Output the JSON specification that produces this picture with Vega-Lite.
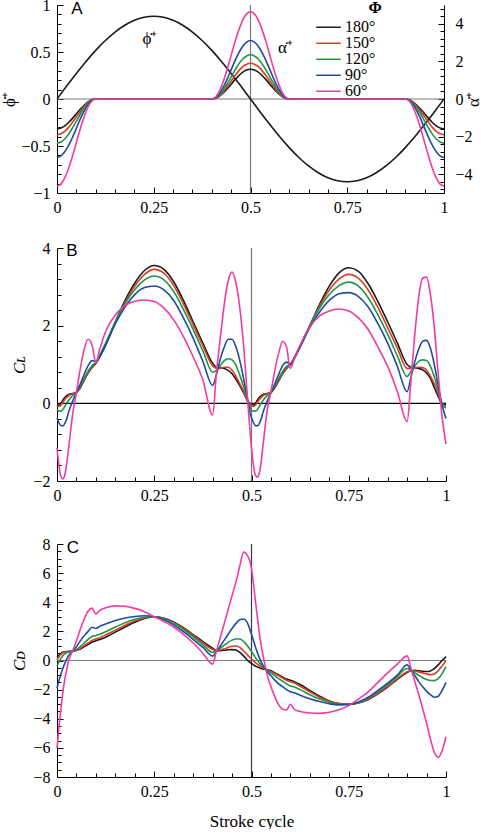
{
  "$schema": "https://vega.github.io/schema/vega-lite/v6.json",
  "padding": {"left": 0, "top": -3, "right": 0, "bottom": 0},
  "bounds": "flush",
  "spacing": 55,
  "config": {
    "view": {"stroke": null},
    "axis": {
      "domainColor": "#000", "tickColor": "#000", "labelColor": "#000", "titleColor": "#000",
      "labelFont": "Liberation Serif", "labelFontSize": 16,
      "titleFont": "Liberation Serif", "titleFontSize": 17, "titleFontWeight": "normal",
      "grid": false, "labelFlush": false, "labelOverlap": false
    },
    "text": {"font": "Liberation Serif", "color": "#000"},
    "line": {"strokeWidth": 1.6, "interpolate": "monotone"}
  },
  "datasets": {
    "phi": [
      {"t":0,"v":0},{"t":0.025,"v":0.138},{"t":0.05,"v":0.272},{"t":0.075,"v":0.4},{"t":0.1,"v":0.517},
      {"t":0.125,"v":0.622},{"t":0.15,"v":0.712},{"t":0.175,"v":0.784},{"t":0.2,"v":0.837},{"t":0.225,"v":0.869},
      {"t":0.25,"v":0.88},{"t":0.275,"v":0.869},{"t":0.3,"v":0.837},{"t":0.325,"v":0.784},{"t":0.35,"v":0.712},
      {"t":0.375,"v":0.622},{"t":0.4,"v":0.517},{"t":0.425,"v":0.4},{"t":0.45,"v":0.272},{"t":0.475,"v":0.138},
      {"t":0.5,"v":0},{"t":0.525,"v":-0.138},{"t":0.55,"v":-0.272},{"t":0.575,"v":-0.4},{"t":0.6,"v":-0.517},
      {"t":0.625,"v":-0.622},{"t":0.65,"v":-0.712},{"t":0.675,"v":-0.784},{"t":0.7,"v":-0.837},{"t":0.725,"v":-0.869},
      {"t":0.75,"v":-0.88},{"t":0.775,"v":-0.869},{"t":0.8,"v":-0.837},{"t":0.825,"v":-0.784},{"t":0.85,"v":-0.712},
      {"t":0.875,"v":-0.622},{"t":0.9,"v":-0.517},{"t":0.925,"v":-0.4},{"t":0.95,"v":-0.272},{"t":0.975,"v":-0.138},
      {"t":1,"v":0}
    ],
    "alpha": [
      {"t":0,"180°":-1.58,"150°":-1.9,"120°":-2.35,"90°":-3.11,"60°":-4.64},
      {"t":0.01,"180°":-1.54,"150°":-1.85,"120°":-2.29,"90°":-3.03,"60°":-4.53},
      {"t":0.02,"180°":-1.43,"150°":-1.72,"120°":-2.13,"90°":-2.81,"60°":-4.2},
      {"t":0.03,"180°":-1.25,"150°":-1.51,"120°":-1.87,"90°":-2.47,"60°":-3.68},
      {"t":0.04,"180°":-1.03,"150°":-1.24,"120°":-1.54,"90°":-2.04,"60°":-3.04},
      {"t":0.05,"180°":-0.79,"150°":-0.95,"120°":-1.18,"90°":-1.56,"60°":-2.32},
      {"t":0.06,"180°":-0.55,"150°":-0.66,"120°":-0.81,"90°":-1.07,"60°":-1.6},
      {"t":0.07,"180°":-0.33,"150°":-0.39,"120°":-0.48,"90°":-0.64,"60°":-0.96},
      {"t":0.08,"180°":-0.15,"150°":-0.18,"120°":-0.22,"90°":-0.3,"60°":-0.44},
      {"t":0.09,"180°":-0.04,"150°":-0.05,"120°":-0.06,"90°":-0.08,"60°":-0.11},
      {"t":0.1,"180°":0,"150°":0,"120°":0,"90°":0,"60°":0},
      {"t":0.4,"180°":0,"150°":0,"120°":0,"90°":0,"60°":0},
      {"t":0.41,"180°":0.04,"150°":0.05,"120°":0.06,"90°":0.08,"60°":0.11},
      {"t":0.42,"180°":0.15,"150°":0.18,"120°":0.22,"90°":0.3,"60°":0.44},
      {"t":0.43,"180°":0.33,"150°":0.39,"120°":0.48,"90°":0.64,"60°":0.96},
      {"t":0.44,"180°":0.55,"150°":0.66,"120°":0.81,"90°":1.07,"60°":1.6},
      {"t":0.45,"180°":0.79,"150°":0.95,"120°":1.18,"90°":1.56,"60°":2.32},
      {"t":0.46,"180°":1.03,"150°":1.24,"120°":1.54,"90°":2.04,"60°":3.04},
      {"t":0.47,"180°":1.25,"150°":1.51,"120°":1.87,"90°":2.47,"60°":3.68},
      {"t":0.48,"180°":1.43,"150°":1.72,"120°":2.13,"90°":2.81,"60°":4.2},
      {"t":0.49,"180°":1.54,"150°":1.85,"120°":2.29,"90°":3.03,"60°":4.53},
      {"t":0.5,"180°":1.58,"150°":1.9,"120°":2.35,"90°":3.11,"60°":4.64},
      {"t":0.51,"180°":1.54,"150°":1.85,"120°":2.29,"90°":3.03,"60°":4.53},
      {"t":0.52,"180°":1.43,"150°":1.72,"120°":2.13,"90°":2.81,"60°":4.2},
      {"t":0.53,"180°":1.25,"150°":1.51,"120°":1.87,"90°":2.47,"60°":3.68},
      {"t":0.54,"180°":1.03,"150°":1.24,"120°":1.54,"90°":2.04,"60°":3.04},
      {"t":0.55,"180°":0.79,"150°":0.95,"120°":1.18,"90°":1.56,"60°":2.32},
      {"t":0.56,"180°":0.55,"150°":0.66,"120°":0.81,"90°":1.07,"60°":1.6},
      {"t":0.57,"180°":0.33,"150°":0.39,"120°":0.48,"90°":0.64,"60°":0.96},
      {"t":0.58,"180°":0.15,"150°":0.18,"120°":0.22,"90°":0.3,"60°":0.44},
      {"t":0.59,"180°":0.04,"150°":0.05,"120°":0.06,"90°":0.08,"60°":0.11},
      {"t":0.6,"180°":0,"150°":0,"120°":0,"90°":0,"60°":0},
      {"t":0.9,"180°":0,"150°":0,"120°":0,"90°":0,"60°":0},
      {"t":0.91,"180°":-0.04,"150°":-0.05,"120°":-0.06,"90°":-0.08,"60°":-0.11},
      {"t":0.92,"180°":-0.15,"150°":-0.18,"120°":-0.22,"90°":-0.3,"60°":-0.44},
      {"t":0.93,"180°":-0.33,"150°":-0.39,"120°":-0.48,"90°":-0.64,"60°":-0.96},
      {"t":0.94,"180°":-0.55,"150°":-0.66,"120°":-0.81,"90°":-1.07,"60°":-1.6},
      {"t":0.95,"180°":-0.79,"150°":-0.95,"120°":-1.18,"90°":-1.56,"60°":-2.32},
      {"t":0.96,"180°":-1.03,"150°":-1.24,"120°":-1.54,"90°":-2.04,"60°":-3.04},
      {"t":0.97,"180°":-1.25,"150°":-1.51,"120°":-1.87,"90°":-2.47,"60°":-3.68},
      {"t":0.98,"180°":-1.43,"150°":-1.72,"120°":-2.13,"90°":-2.81,"60°":-4.2},
      {"t":0.99,"180°":-1.54,"150°":-1.85,"120°":-2.29,"90°":-3.03,"60°":-4.53},
      {"t":1,"180°":-1.58,"150°":-1.9,"120°":-2.35,"90°":-3.11,"60°":-4.64}
    ],
    "lift": [
      {"t":0,"180°":-0.03,"150°":-0.06,"120°":-0.17,"90°":-0.38,"60°":-1.15},
      {"t":0.005,"180°":-0.05,"150°":-0.08,"120°":-0.2,"90°":-0.5,"60°":-1.6},
      {"t":0.01,"180°":0,"150°":-0.05,"120°":-0.2,"90°":-0.57,"60°":-1.88},
      {"t":0.015,"180°":0.08,"150°":0.02,"120°":-0.16,"90°":-0.58,"60°":-1.95},
      {"t":0.02,"180°":0.15,"150°":0.1,"120°":-0.08,"90°":-0.52,"60°":-1.85},
      {"t":0.025,"180°":0.2,"150°":0.15,"120°":0,"90°":-0.4,"60°":-1.55},
      {"t":0.03,"180°":0.23,"150°":0.2,"120°":0.08,"90°":-0.22,"60°":-1.15},
      {"t":0.04,"180°":0.25,"150°":0.25,"120°":0.2,"90°":0.05,"60°":-0.3},
      {"t":0.05,"180°":0.28,"150°":0.28,"120°":0.28,"90°":0.28,"60°":0.28},
      {"t":0.06,"180°":0.4,"150°":0.42,"120°":0.45,"90°":0.5,"60°":0.9},
      {"t":0.07,"180°":0.6,"150°":0.62,"120°":0.65,"90°":0.75,"60°":1.4},
      {"t":0.08,"180°":0.78,"150°":0.8,"120°":0.83,"90°":0.97,"60°":1.65},
      {"t":0.09,"180°":0.92,"150°":0.95,"120°":0.97,"90°":1.1,"60°":1.5},
      {"t":0.1,"180°":1.03,"150°":1.05,"120°":1.06,"90°":1.08,"60°":1.05},
      {"t":0.11,"180°":1.2,"150°":1.22,"120°":1.24,"90°":1.2,"60°":1.4},
      {"t":0.125,"180°":1.5,"150°":1.52,"120°":1.55,"90°":1.5,"60°":1.85},
      {"t":0.15,"180°":2.1,"150°":2.08,"120°":2.1,"90°":2.05,"60°":2.28},
      {"t":0.175,"180°":2.65,"150°":2.6,"120°":2.57,"90°":2.48,"60°":2.52},
      {"t":0.2,"180°":3.1,"150°":3.02,"120°":2.93,"90°":2.8,"60°":2.63},
      {"t":0.225,"180°":3.42,"150°":3.32,"120°":3.18,"90°":2.98,"60°":2.66},
      {"t":0.25,"180°":3.55,"150°":3.45,"120°":3.28,"90°":3.02,"60°":2.62},
      {"t":0.275,"180°":3.45,"150°":3.35,"120°":3.18,"90°":2.92,"60°":2.45},
      {"t":0.3,"180°":3.13,"150°":3.03,"120°":2.88,"90°":2.65,"60°":2.15},
      {"t":0.325,"180°":2.65,"150°":2.56,"120°":2.42,"90°":2.2,"60°":1.72},
      {"t":0.35,"180°":2.1,"150°":2.02,"120°":1.9,"90°":1.68,"60°":1.2},
      {"t":0.375,"180°":1.55,"150°":1.48,"120°":1.35,"90°":1.08,"60°":0.6},
      {"t":0.4,"180°":1.03,"150°":0.97,"120°":0.8,"90°":0.46,"60°":-0.3},
      {"t":0.41,"180°":0.93,"150°":0.9,"120°":0.85,"90°":0.75,"60°":0.8},
      {"t":0.42,"180°":0.92,"150°":0.9,"120°":0.98,"90°":1.15,"60°":1.7},
      {"t":0.43,"180°":0.9,"150°":0.93,"120°":1.1,"90°":1.45,"60°":2.55},
      {"t":0.44,"180°":0.85,"150°":0.93,"120°":1.15,"90°":1.65,"60°":3.15},
      {"t":0.45,"180°":0.76,"150°":0.85,"120°":1.12,"90°":1.65,"60°":3.38},
      {"t":0.46,"180°":0.62,"150°":0.7,"120°":0.98,"90°":1.45,"60°":3.1},
      {"t":0.47,"180°":0.45,"150°":0.5,"120°":0.72,"90°":1.1,"60°":2.45},
      {"t":0.48,"180°":0.27,"150°":0.3,"120°":0.42,"90°":0.62,"60°":1.45},
      {"t":0.49,"180°":0.06,"150°":0.06,"120°":0.08,"90°":0.1,"60°":0.1},
      {"t":0.5,"180°":-0.03,"150°":-0.06,"120°":-0.17,"90°":-0.38,"60°":-1.15},
      {"t":0.505,"180°":-0.05,"150°":-0.08,"120°":-0.2,"90°":-0.5,"60°":-1.6},
      {"t":0.51,"180°":0,"150°":-0.05,"120°":-0.2,"90°":-0.57,"60°":-1.85},
      {"t":0.515,"180°":0.08,"150°":0.02,"120°":-0.16,"90°":-0.58,"60°":-1.9},
      {"t":0.52,"180°":0.15,"150°":0.1,"120°":-0.08,"90°":-0.52,"60°":-1.8},
      {"t":0.525,"180°":0.2,"150°":0.15,"120°":0,"90°":-0.4,"60°":-1.5},
      {"t":0.53,"180°":0.23,"150°":0.2,"120°":0.08,"90°":-0.22,"60°":-1.05},
      {"t":0.54,"180°":0.25,"150°":0.25,"120°":0.2,"90°":0.05,"60°":-0.2},
      {"t":0.55,"180°":0.28,"150°":0.28,"120°":0.28,"90°":0.28,"60°":0.3},
      {"t":0.56,"180°":0.4,"150°":0.42,"120°":0.45,"90°":0.5,"60°":0.85},
      {"t":0.57,"180°":0.58,"150°":0.6,"120°":0.64,"90°":0.75,"60°":1.3},
      {"t":0.58,"180°":0.76,"150°":0.78,"120°":0.82,"90°":0.97,"60°":1.6},
      {"t":0.59,"180°":0.9,"150°":0.92,"120°":0.95,"90°":1.06,"60°":1.45},
      {"t":0.6,"180°":1,"150°":1,"120°":1,"90°":1,"60°":0.9},
      {"t":0.61,"180°":1.17,"150°":1.18,"120°":1.18,"90°":1.15,"60°":1.15},
      {"t":0.625,"180°":1.47,"150°":1.47,"120°":1.48,"90°":1.45,"60°":1.5},
      {"t":0.65,"180°":2,"150°":2,"120°":2,"90°":1.95,"60°":1.97},
      {"t":0.675,"180°":2.55,"150°":2.5,"120°":2.45,"90°":2.35,"60°":2.25},
      {"t":0.7,"180°":3.02,"150°":2.92,"120°":2.8,"90°":2.65,"60°":2.38},
      {"t":0.725,"180°":3.36,"150°":3.2,"120°":3.03,"90°":2.82,"60°":2.43},
      {"t":0.75,"180°":3.49,"150°":3.32,"120°":3.12,"90°":2.85,"60°":2.38},
      {"t":0.775,"180°":3.4,"150°":3.22,"120°":3.02,"90°":2.75,"60°":2.2},
      {"t":0.8,"180°":3.08,"150°":2.92,"120°":2.72,"90°":2.48,"60°":1.9},
      {"t":0.825,"180°":2.62,"150°":2.47,"120°":2.28,"90°":2.05,"60°":1.45},
      {"t":0.85,"180°":2.1,"150°":1.95,"120°":1.78,"90°":1.55,"60°":0.95},
      {"t":0.875,"180°":1.55,"150°":1.42,"120°":1.22,"90°":0.95,"60°":0.3},
      {"t":0.9,"180°":1,"150°":0.9,"120°":0.69,"90°":0.3,"60°":-0.47},
      {"t":0.91,"180°":0.93,"150°":0.9,"120°":0.82,"90°":0.68,"60°":0.6},
      {"t":0.92,"180°":0.92,"150°":0.92,"120°":0.97,"90°":1.08,"60°":1.8},
      {"t":0.93,"180°":0.9,"150°":0.93,"120°":1.08,"90°":1.4,"60°":2.75},
      {"t":0.94,"180°":0.86,"150°":0.92,"120°":1.12,"90°":1.6,"60°":3.22},
      {"t":0.95,"180°":0.78,"150°":0.86,"120°":1.1,"90°":1.62,"60°":3.25},
      {"t":0.96,"180°":0.64,"150°":0.7,"120°":0.95,"90°":1.42,"60°":2.8},
      {"t":0.97,"180°":0.4,"150°":0.5,"120°":0.68,"90°":1,"60°":1.95},
      {"t":0.98,"180°":0.18,"150°":0.25,"120°":0.35,"90°":0.45,"60°":0.75},
      {"t":0.99,"180°":-0.02,"150°":0,"120°":0,"90°":-0.05,"60°":-0.35},
      {"t":1,"180°":-0.04,"150°":-0.07,"120°":-0.12,"90°":-0.39,"60°":-1.05}
    ],
    "drag": [
      {"t":0,"180°":0.2,"150°":0.05,"120°":-0.4,"90°":-1.9,"60°":-6},
      {"t":0.005,"180°":0.35,"150°":0.25,"120°":-0.1,"90°":-1.4,"60°":-4.6},
      {"t":0.01,"180°":0.48,"150°":0.42,"120°":0.15,"90°":-0.95,"60°":-3.3},
      {"t":0.015,"180°":0.56,"150°":0.52,"120°":0.33,"90°":-0.55,"60°":-2.2},
      {"t":0.02,"180°":0.6,"150°":0.58,"120°":0.45,"90°":-0.2,"60°":-1.3},
      {"t":0.025,"180°":0.62,"150°":0.6,"120°":0.53,"90°":0.1,"60°":-0.6},
      {"t":0.03,"180°":0.63,"150°":0.62,"120°":0.58,"90°":0.35,"60°":0},
      {"t":0.04,"180°":0.64,"150°":0.64,"120°":0.64,"90°":0.62,"60°":0.65},
      {"t":0.05,"180°":0.68,"150°":0.7,"120°":0.75,"90°":0.95,"60°":1.35},
      {"t":0.06,"180°":0.78,"150°":0.83,"120°":0.95,"90°":1.35,"60°":2.15},
      {"t":0.07,"180°":0.95,"150°":1.02,"120°":1.2,"90°":1.7,"60°":2.85},
      {"t":0.08,"180°":1.1,"150°":1.2,"120°":1.45,"90°":2,"60°":3.4},
      {"t":0.09,"180°":1.25,"150°":1.37,"120°":1.65,"90°":2.28,"60°":3.6},
      {"t":0.1,"180°":1.35,"150°":1.47,"120°":1.72,"90°":2.2,"60°":3.18},
      {"t":0.11,"180°":1.45,"150°":1.57,"120°":1.8,"90°":2.35,"60°":3.45},
      {"t":0.125,"180°":1.6,"150°":1.75,"120°":1.98,"90°":2.5,"60°":3.62},
      {"t":0.15,"180°":1.95,"150°":2.08,"120°":2.3,"90°":2.75,"60°":3.75},
      {"t":0.175,"180°":2.3,"150°":2.42,"120°":2.6,"90°":2.92,"60°":3.72},
      {"t":0.2,"180°":2.62,"150°":2.72,"120°":2.83,"90°":3.02,"60°":3.58},
      {"t":0.225,"180°":2.88,"150°":2.92,"120°":2.97,"90°":3.07,"60°":3.35},
      {"t":0.25,"180°":3,"150°":3,"120°":3,"90°":3,"60°":3},
      {"t":0.275,"180°":2.9,"150°":2.88,"120°":2.86,"90°":2.8,"60°":2.68},
      {"t":0.3,"180°":2.65,"150°":2.62,"120°":2.58,"90°":2.45,"60°":2.3},
      {"t":0.325,"180°":2.25,"150°":2.2,"120°":2.13,"90°":1.98,"60°":1.8},
      {"t":0.35,"180°":1.78,"150°":1.72,"120°":1.62,"90°":1.45,"60°":1.2},
      {"t":0.375,"180°":1.3,"150°":1.22,"120°":1.08,"90°":0.9,"60°":0.5},
      {"t":0.4,"180°":0.85,"150°":0.75,"120°":0.55,"90°":0.3,"60°":-0.25},
      {"t":0.41,"180°":0.68,"150°":0.68,"120°":0.68,"90°":0.62,"60°":0.66},
      {"t":0.42,"180°":0.68,"150°":0.72,"120°":0.85,"90°":1,"60°":1.6},
      {"t":0.43,"180°":0.7,"150°":0.8,"120°":1.05,"90°":1.4,"60°":2.55},
      {"t":0.44,"180°":0.74,"150°":0.9,"120°":1.25,"90°":1.8,"60°":3.5},
      {"t":0.45,"180°":0.75,"150°":0.98,"120°":1.4,"90°":2.2,"60°":4.45},
      {"t":0.46,"180°":0.72,"150°":1,"120°":1.48,"90°":2.55,"60°":5.4},
      {"t":0.47,"180°":0.55,"150°":0.9,"120°":1.48,"90°":2.8,"60°":6.5},
      {"t":0.48,"180°":0.3,"150°":0.65,"120°":1.3,"90°":2.85,"60°":7.45},
      {"t":0.49,"180°":0,"150°":0.38,"120°":1,"90°":2.55,"60°":7.2},
      {"t":0.5,"180°":-0.2,"150°":0.1,"120°":0.62,"90°":1.8,"60°":6.3},
      {"t":0.505,"180°":-0.3,"150°":-0.02,"120°":0.42,"90°":1.38,"60°":5.3},
      {"t":0.51,"180°":-0.38,"150°":-0.15,"120°":0.2,"90°":0.95,"60°":4.1},
      {"t":0.515,"180°":-0.44,"150°":-0.25,"120°":0.02,"90°":0.55,"60°":3},
      {"t":0.52,"180°":-0.5,"150°":-0.35,"120°":-0.15,"90°":0.2,"60°":1.9},
      {"t":0.525,"180°":-0.55,"150°":-0.44,"120°":-0.3,"90°":-0.1,"60°":1},
      {"t":0.53,"180°":-0.58,"150°":-0.52,"120°":-0.45,"90°":-0.35,"60°":0.3},
      {"t":0.54,"180°":-0.63,"150°":-0.65,"120°":-0.68,"90°":-0.75,"60°":-0.95},
      {"t":0.55,"180°":-0.7,"150°":-0.75,"120°":-0.85,"90°":-1.05,"60°":-1.8},
      {"t":0.56,"180°":-0.85,"150°":-0.9,"120°":-1.05,"90°":-1.35,"60°":-2.5},
      {"t":0.57,"180°":-1,"150°":-1.05,"120°":-1.25,"90°":-1.6,"60°":-3.05},
      {"t":0.58,"180°":-1.15,"150°":-1.2,"120°":-1.42,"90°":-1.8,"60°":-3.35},
      {"t":0.59,"180°":-1.27,"150°":-1.35,"120°":-1.6,"90°":-2,"60°":-3.4},
      {"t":0.6,"180°":-1.35,"150°":-1.45,"120°":-1.75,"90°":-2.15,"60°":-3},
      {"t":0.61,"180°":-1.45,"150°":-1.55,"120°":-1.82,"90°":-2.22,"60°":-3.35},
      {"t":0.625,"180°":-1.65,"150°":-1.77,"120°":-2,"90°":-2.38,"60°":-3.5},
      {"t":0.65,"180°":-2.05,"150°":-2.15,"120°":-2.35,"90°":-2.62,"60°":-3.6},
      {"t":0.675,"180°":-2.45,"150°":-2.52,"120°":-2.65,"90°":-2.82,"60°":-3.63},
      {"t":0.7,"180°":-2.78,"150°":-2.8,"120°":-2.87,"90°":-2.97,"60°":-3.55},
      {"t":0.725,"180°":-2.95,"150°":-2.95,"120°":-3,"90°":-3.05,"60°":-3.38},
      {"t":0.75,"180°":-3,"150°":-3,"120°":-3.02,"90°":-3.02,"60°":-3.1},
      {"t":0.775,"180°":-2.92,"150°":-2.9,"120°":-2.88,"90°":-2.85,"60°":-2.65},
      {"t":0.8,"180°":-2.68,"150°":-2.65,"120°":-2.6,"90°":-2.52,"60°":-2.15},
      {"t":0.825,"180°":-2.28,"150°":-2.25,"120°":-2.15,"90°":-2.05,"60°":-1.5},
      {"t":0.85,"180°":-1.82,"150°":-1.78,"120°":-1.65,"90°":-1.55,"60°":-0.85},
      {"t":0.875,"180°":-1.3,"150°":-1.25,"120°":-1.1,"90°":-1,"60°":-0.25},
      {"t":0.9,"180°":-0.82,"150°":-0.78,"120°":-0.55,"90°":-0.3,"60°":0.32},
      {"t":0.91,"180°":-0.7,"150°":-0.7,"120°":-0.68,"90°":-0.65,"60°":-0.55},
      {"t":0.92,"180°":-0.68,"150°":-0.72,"120°":-0.85,"90°":-1.05,"60°":-1.45},
      {"t":0.93,"180°":-0.7,"150°":-0.78,"120°":-1.02,"90°":-1.45,"60°":-2.35},
      {"t":0.94,"180°":-0.74,"150°":-0.85,"120°":-1.18,"90°":-1.8,"60°":-3.3},
      {"t":0.95,"180°":-0.76,"150°":-0.92,"120°":-1.3,"90°":-2.1,"60°":-4.3},
      {"t":0.96,"180°":-0.72,"150°":-0.97,"120°":-1.37,"90°":-2.35,"60°":-5.4},
      {"t":0.97,"180°":-0.55,"150°":-0.92,"120°":-1.38,"90°":-2.52,"60°":-6.3},
      {"t":0.98,"180°":-0.3,"150°":-0.7,"120°":-1.25,"90°":-2.45,"60°":-6.65},
      {"t":0.99,"180°":0,"150°":-0.38,"120°":-0.9,"90°":-2.05,"60°":-6.2},
      {"t":1,"180°":0.27,"150°":-0.02,"120°":-0.42,"90°":-1.5,"60°":-5.25}
    ]
  },
  "resolve": {"scale": {"color": "independent"}},
  "vconcat": [
    {
      "width": 387,
      "height": 188,
      "layer": [
        {
          "layer": [
            {
              "data": {"values": [{}]},
              "mark": {"type": "rule", "color": "#7a7a7a", "strokeWidth": 1.2},
              "encoding": {"y": {"datum": 0, "type": "quantitative"}}
            },
            {
              "data": {"values": [{}]},
              "mark": {"type": "rule", "color": "#7a7a7a", "strokeWidth": 1.2},
              "encoding": {"x": {"datum": 0.5, "type": "quantitative"}}
            },
            {
              "data": {"name": "phi"},
              "mark": {"type": "line", "color": "#1a1a1a"},
              "encoding": {
                "x": {
                  "field": "t", "type": "quantitative",
                  "scale": {"domain": [0, 1], "nice": false},
                  "axis": {
                    "values": [0,0.05,0.1,0.15,0.2,0.25,0.3,0.35,0.4,0.45,0.5,0.55,0.6,0.65,0.7,0.75,0.8,0.85,0.9,0.95,1],
                    "tickCount": 200, "format": "~g", "labelOverlap": false, "labelFlush": false,
                    "labelExpr": "abs(datum.value*4-round(datum.value*4))<0.001 ? datum.label : ''",
                    "tickSize": {"condition": {"test": "abs(datum.value*4-round(datum.value*4))<0.001", "value": -6}, "value": -4},
                    "labelPadding": 12,
                    "title": null
                  }
                },
                "y": {
                  "field": "v", "type": "quantitative",
                  "scale": {"domain": [-1, 1], "nice": false},
                  "axis": {
                    "values": [-1,-0.9,-0.8,-0.7,-0.6,-0.5,-0.4,-0.3,-0.2,-0.1,0,0.1,0.2,0.3,0.4,0.5,0.6,0.7,0.8,0.9,1],
                    "tickCount": 200, "format": "~g", "labelOverlap": false, "labelFlush": false,
                    "labelExpr": "abs(datum.value*2-round(datum.value*2))<0.001 ? datum.label : ''",
                    "tickSize": {"condition": {"test": "abs(datum.value*2-round(datum.value*2))<0.001", "value": -6}, "value": -4},
                    "labelPadding": 13,
                    "title": "ϕ̇⁺",
                    "titlePadding": 2
                  }
                }
              }
            },
            {
              "data": {"values": [{}]},
              "mark": {"type": "text", "text": "A", "font": "Liberation Sans", "fontSize": 17, "align": "left", "baseline": "alphabetic"},
              "encoding": {"x": {"datum": 0.037, "type": "quantitative"}, "y": {"datum": 0.9, "type": "quantitative"}}
            },
            {
              "data": {"values": [{}]},
              "mark": {"type": "text", "text": "ϕ̇⁺", "fontSize": 17, "align": "center", "baseline": "alphabetic"},
              "encoding": {"x": {"datum": 0.24, "type": "quantitative"}, "y": {"datum": 0.59, "type": "quantitative"}}
            },
            {
              "data": {"values": [{}]},
              "mark": {"type": "text", "text": "α̇⁺", "fontSize": 17, "align": "center", "baseline": "alphabetic"},
              "encoding": {"x": {"datum": 0.59, "type": "quantitative"}, "y": {"datum": 0.49, "type": "quantitative"}}
            },
            {
              "data": {"values": [{}]},
              "mark": {"type": "text", "text": "Φ", "fontSize": 16, "fontWeight": "bold", "align": "center", "baseline": "alphabetic"},
              "encoding": {"x": {"datum": 0.822, "type": "quantitative"}, "y": {"datum": 0.91, "type": "quantitative"}}
            }
          ]
        },
        {
          "data": {"name": "alpha"},
          "transform": [{"fold": ["180°", "150°", "120°", "90°", "60°"], "as": ["s", "v"]}],
          "mark": {"type": "line"},
          "encoding": {
            "x": {"field": "t", "type": "quantitative", "scale": {"domain": [0, 1], "nice": false}},
            "y": {
              "field": "v", "type": "quantitative",
              "scale": {"domain": [-5, 5], "nice": false},
              "axis": {
                "orient": "right",
                "values": [-4.8,-4.4,-4,-3.6,-3.2,-2.8,-2.4,-2,-1.6,-1.2,-0.8,-0.4,0,0.4,0.8,1.2,1.6,2,2.4,2.8,3.2,3.6,4,4.4,4.8],
                "tickCount": 200, "format": "~g", "labelOverlap": false, "labelFlush": false,
                "labelExpr": "abs(datum.value/2-round(datum.value/2))<0.001 ? datum.label : ''",
                "tickSize": {"condition": {"test": "abs(datum.value/2-round(datum.value/2))<0.001", "value": -6}, "value": -4},
                "labelPadding": 17,
                "title": "α̇⁺",
                "titleAngle": -90,
                "titlePadding": 10
              }
            },
            "color": {
              "field": "s", "type": "nominal",
              "scale": {"domain": ["180°", "150°", "120°", "90°", "60°"], "range": ["#1a1a1a", "#dc3c28", "#1e9646", "#1f4ba0", "#f03ca0"]},
              "legend": {
                "orient": "none", "legendX": 258, "legendY": 15, "title": null,
                "symbolType": "stroke", "symbolSize": 600, "symbolStrokeWidth": 2,
                "clipHeight": 14.5, "rowPadding": -5.5, "padding": 0,
                "labelFont": "Liberation Serif", "labelFontSize": 16, "labelColor": "#000", "labelOffset": 3
              }
            }
          }
        }
      ],
      "resolve": {"scale": {"y": "independent"}}
    },
    {
      "bounds": "flush",
      "spacing": 63,
      "resolve": {"scale": {"color": "independent"}},
      "vconcat": [
        {
          "width": 389,
          "height": 233,
          "layer": [
            {
              "data": {"values": [{}]},
              "mark": {"type": "rule", "color": "#000", "strokeWidth": 1.2},
              "encoding": {"y": {"datum": 0, "type": "quantitative"}}
            },
            {
              "data": {"values": [{}]},
              "mark": {"type": "rule", "color": "#7a7a7a", "strokeWidth": 1.2},
              "encoding": {"x": {"datum": 0.5, "type": "quantitative"}}
            },
            {
              "data": {"name": "lift"},
              "transform": [{"fold": ["180°", "150°", "120°", "90°", "60°"], "as": ["s", "v"]}],
              "mark": {"type": "line"},
              "encoding": {
                "x": {
                  "field": "t", "type": "quantitative",
                  "scale": {"domain": [0, 1], "nice": false},
                  "axis": {
                    "values": [0,0.05,0.1,0.15,0.2,0.25,0.3,0.35,0.4,0.45,0.5,0.55,0.6,0.65,0.7,0.75,0.8,0.85,0.9,0.95,1],
                    "tickCount": 200, "format": "~g", "labelOverlap": false, "labelFlush": false,
                    "labelExpr": "abs(datum.value*4-round(datum.value*4))<0.001 ? datum.label : ''",
                    "tickSize": {"condition": {"test": "abs(datum.value*4-round(datum.value*4))<0.001", "value": -6}, "value": -4},
                    "labelPadding": 12,
                    "title": null
                  }
                },
                "y": {
                  "field": "v", "type": "quantitative",
                  "scale": {"domain": [-2, 4], "nice": false},
                  "axis": {
                    "values": [-2,-1.6,-1.2,-0.8,-0.4,0,0.4,0.8,1.2,1.6,2,2.4,2.8,3.2,3.6,4],
                    "tickCount": 200, "format": "~g", "labelOverlap": false, "labelFlush": false,
                    "labelExpr": "abs(datum.value/2-round(datum.value/2))<0.001 ? datum.label : ''",
                    "tickSize": {"condition": {"test": "abs(datum.value/2-round(datum.value/2))<0.001", "value": -6}, "value": -4},
                    "labelPadding": 13,
                    "title": "Cʟ",
                    "titleFontStyle": "italic",
                    "titlePadding": 4
                  }
                },
                "color": {
                  "field": "s", "type": "nominal",
                  "scale": {"domain": ["180°", "150°", "120°", "90°", "60°"], "range": ["#1a1a1a", "#dc3c28", "#1e9646", "#1f4ba0", "#f03ca0"]},
                  "legend": null
                }
              }
            },
            {
              "data": {"values": [{}]},
              "mark": {"type": "text", "text": "B", "font": "Liberation Sans", "fontSize": 17, "align": "left", "baseline": "alphabetic"},
              "encoding": {"x": {"datum": 0.024, "type": "quantitative"}, "y": {"datum": 3.8, "type": "quantitative"}}
            }
          ]
        },
        {
          "width": 389,
          "height": 233,
          "layer": [
            {
              "data": {"values": [{}]},
              "mark": {"type": "rule", "color": "#7a7a7a", "strokeWidth": 1.2},
              "encoding": {"y": {"datum": 0, "type": "quantitative"}}
            },
            {
              "data": {"values": [{}]},
              "mark": {"type": "rule", "color": "#3a3a3a", "strokeWidth": 1.2},
              "encoding": {"x": {"datum": 0.5, "type": "quantitative"}}
            },
            {
              "data": {"name": "drag"},
              "transform": [{"fold": ["180°", "150°", "120°", "90°", "60°"], "as": ["s", "v"]}],
              "mark": {"type": "line"},
              "encoding": {
                "x": {
                  "field": "t", "type": "quantitative",
                  "scale": {"domain": [0, 1], "nice": false},
                  "axis": {
                    "values": [0,0.05,0.1,0.15,0.2,0.25,0.3,0.35,0.4,0.45,0.5,0.55,0.6,0.65,0.7,0.75,0.8,0.85,0.9,0.95,1],
                    "tickCount": 200, "format": "~g", "labelOverlap": false, "labelFlush": false,
                    "labelExpr": "abs(datum.value*4-round(datum.value*4))<0.001 ? datum.label : ''",
                    "tickSize": {"condition": {"test": "abs(datum.value*4-round(datum.value*4))<0.001", "value": -6}, "value": -4},
                    "labelPadding": 12,
                    "title": "Stroke cycle",
                    "titlePadding": 12
                  }
                },
                "y": {
                  "field": "v", "type": "quantitative",
                  "scale": {"domain": [-8, 8], "nice": false},
                  "axis": {
                    "values": [-8,-7.5,-7,-6.5,-6,-5.5,-5,-4.5,-4,-3.5,-3,-2.5,-2,-1.5,-1,-0.5,0,0.5,1,1.5,2,2.5,3,3.5,4,4.5,5,5.5,6,6.5,7,7.5,8],
                    "tickCount": 200, "format": "~g", "labelOverlap": false, "labelFlush": false,
                    "labelExpr": "abs(datum.value/2-round(datum.value/2))<0.001 ? datum.label : ''",
                    "tickSize": {"condition": {"test": "abs(datum.value/2-round(datum.value/2))<0.001", "value": -6}, "value": -4},
                    "labelPadding": 13,
                    "title": "Cᴅ",
                    "titleFontStyle": "italic",
                    "titlePadding": 4
                  }
                },
                "color": {
                  "field": "s", "type": "nominal",
                  "scale": {"domain": ["180°", "150°", "120°", "90°", "60°"], "range": ["#1a1a1a", "#dc3c28", "#1e9646", "#1f4ba0", "#f03ca0"]},
                  "legend": null
                }
              }
            },
            {
              "data": {"values": [{}]},
              "mark": {"type": "text", "text": "C", "font": "Liberation Sans", "fontSize": 17, "align": "left", "baseline": "alphabetic"},
              "encoding": {"x": {"datum": 0.025, "type": "quantitative"}, "y": {"datum": 7.4, "type": "quantitative"}}
            }
          ]
        }
      ]
    }
  ]
}
